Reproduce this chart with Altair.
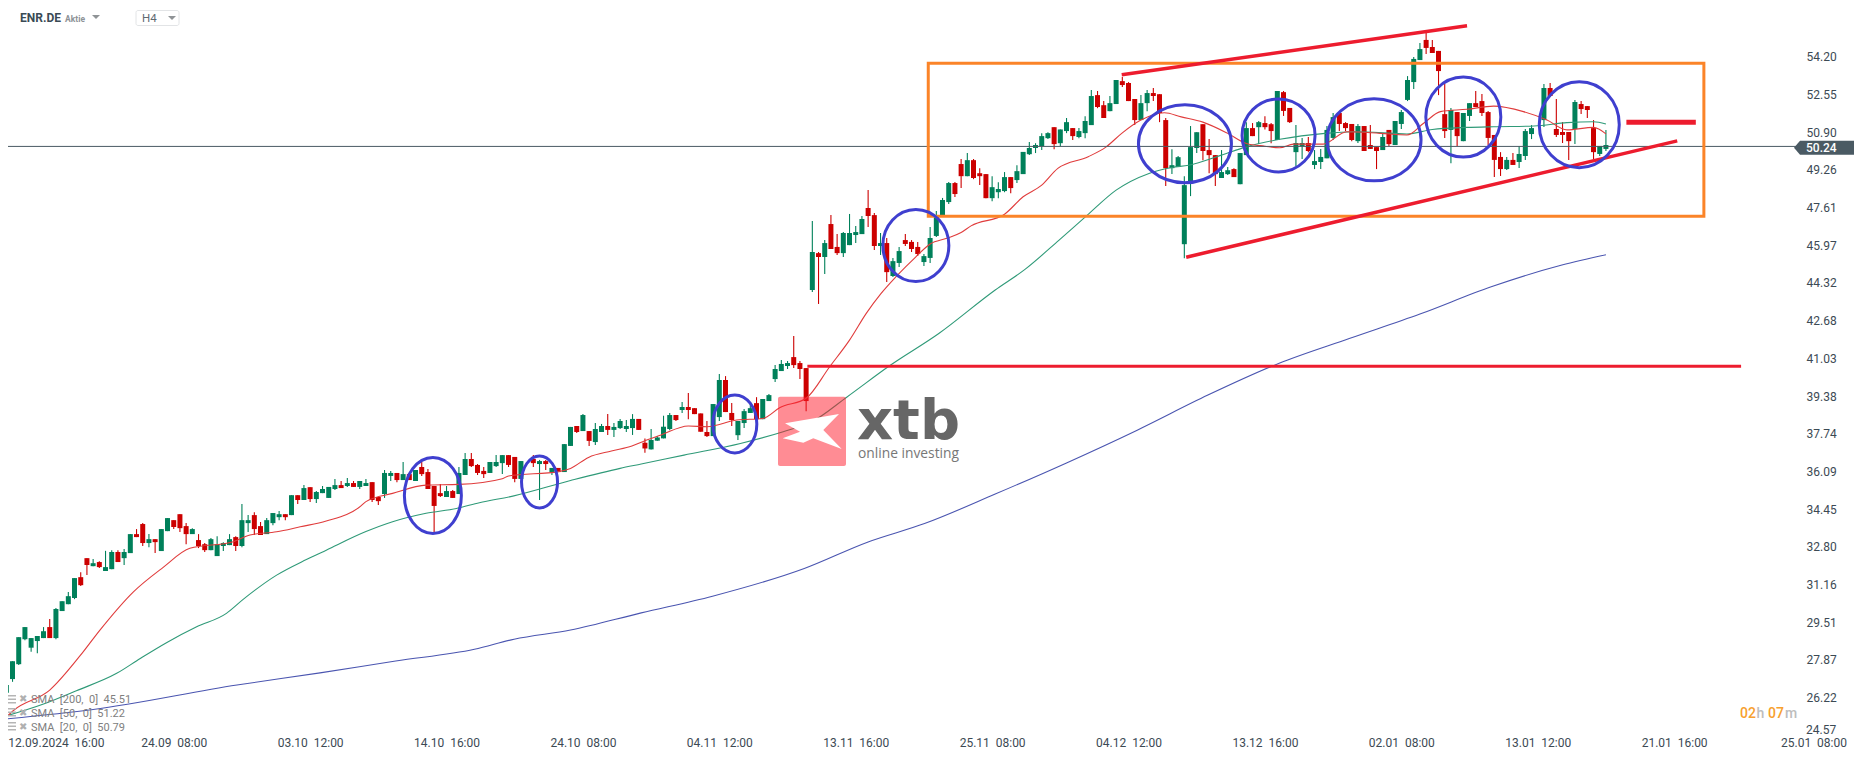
import altair as alt
import pandas as pd

N = None
opens = [
26.38,26.98,27.63,28.72,28.35,28.64,28.77,29.25,28.77,29.95,
30.25,30.52,31.43,32.26,31.91,32.09,31.70,31.78,32.53,32.26,
32.48,33.31,33.75,32.92,33.09,32.57,33.44,33.92,34.18,33.66,
33.31,33.05,32.87,32.61,32.35,32.79,32.83,33.18,32.79,33.79,
34.14,33.66,33.31,33.79,34.05,34.18,34.14,35.01,34.80,35.36,
34.84,35.10,34.89,35.28,35.45,35.41,35.54,35.37,35.41,35.58,
34.93,35.06,35.85,35.98,35.67,35.93,35.63,36.24,36.02,35.41,
35.10,34.93,35.19,35.06,35.89,36.59,36.33,36.07,35.98,36.28,
36.41,36.76,36.68,35.72,N,36.59,36.37,36.50,36.02,36.20,
36.02,37.16,38.03,37.81,37.81,37.33,37.77,38.03,37.86,37.94,
37.90,37.94,38.34,37.30,37.01,37.39,37.49,37.90,38.51,38.73,
38.86,38.81,38.58,37.77,37.59,38.42,40.04,38.60,37.63,38.16,
38.60,39.03,38.33,39.12,40.08,40.43,40.65,41.04,40.78,40.56,
43.97,45.58,45.41,46.85,45.85,45.58,45.93,46.37,46.41,47.55,
47.24,45.89,46.02,44.58,45.15,46.15,46.07,45.85,45.19,45.37,
46.33,47.24,47.81,48.64,49.47,48.94,49.64,49.07,49.03,47.98,
48.24,48.29,48.90,48.77,49.03,49.90,50.17,50.25,50.60,51.08,
50.38,50.91,51.04,50.65,50.82,51.17,52.48,52.04,51.78,52.09,
53.09,53.01,52.31,51.39,52.13,52.57,52.52,51.39,49.29,49.34,
45.97,48.68,50.17,51.21,50.08,49.86,48.86,49.03,49.25,48.59,
49.86,51.04,51.08,51.26,51.21,50.52,52.61,51.92,49.99,50.26,
50.39,49.43,49.56,49.72,50.61,51.70,51.26,51.22,50.47,51.13,
50.30,50.21,50.08,50.96,50.30,51.22,52.27,53.05,54.01,54.89,
54.58,54.41,51.65,50.96,51.74,50.47,51.57,52.13,52.22,51.74,
50.74,49.78,49.25,49.65,49.56,49.82,50.78,N,51.39,52.79,
51.00,50.87,50.87,51.00,52.09,52.00,51.04,49.91,50.13]
highs = [
26.72,27.76,28.81,29.25,28.77,28.86,29.25,29.60,30.08,30.38,
30.78,31.39,31.65,32.26,32.22,32.13,32.58,32.61,32.61,32.66,
33.31,33.53,33.79,33.31,33.09,33.53,34.01,33.92,34.18,33.79,
33.57,33.31,32.92,33.14,33.22,32.96,33.31,33.22,34.62,34.14,
34.27,33.84,34.01,34.23,34.32,34.18,35.01,35.01,35.45,35.36,
35.19,35.41,35.37,35.72,35.63,35.76,35.63,35.63,35.72,35.58,
34.93,36.11,36.07,35.98,36.46,35.93,36.11,36.46,36.15,35.41,
35.50,35.41,35.24,36.24,36.85,36.85,36.37,36.24,36.46,36.76,
36.76,36.76,36.68,36.50,N,36.76,36.55,36.55,36.20,36.20,
37.24,37.99,38.03,38.55,37.81,38.16,38.12,38.55,38.16,38.34,
38.29,38.55,38.34,37.49,37.90,37.58,38.48,38.60,38.51,39.08,
39.47,38.81,38.58,38.25,38.99,40.30,40.21,39.03,38.25,38.77,
39.03,39.29,39.21,39.43,40.69,40.91,40.87,41.96,40.87,40.56,
46.98,45.63,46.15,47.24,46.41,46.50,47.29,46.76,47.20,48.34,
47.33,46.46,46.24,45.37,45.85,46.41,46.15,46.07,45.54,46.72,
47.42,47.99,48.69,48.69,49.69,49.95,49.69,49.29,49.03,48.94,
48.68,49.12,48.90,49.42,50.00,50.43,50.38,50.82,50.86,51.08,
50.98,51.48,51.04,51.04,51.56,52.70,52.66,52.22,52.44,53.14,
53.27,53.05,52.31,52.48,52.70,52.79,52.52,51.48,50.12,49.82,
48.94,51.13,50.86,51.21,50.56,49.86,50.08,49.34,49.29,49.95,
51.30,51.26,51.35,51.56,51.26,52.66,52.66,51.92,51.17,50.61,
50.65,50.08,50.13,51.13,51.70,51.70,51.30,51.22,51.22,51.13,
51.17,50.21,50.82,50.96,51.35,51.83,53.31,54.14,54.76,55.24,
54.89,54.41,52.96,51.92,51.74,51.70,52.13,52.66,52.53,51.79,
50.74,49.99,49.78,49.95,50.26,51.00,51.17,N,52.96,53.01,
52.31,51.30,50.87,52.27,52.22,52.00,51.39,50.26,50.96]
lows = [
26.21,26.86,27.59,28.68,28.17,28.11,28.77,28.77,28.72,29.95,
30.25,30.47,31.04,31.52,31.91,31.83,31.70,31.78,32.09,31.96,
32.48,33.18,32.79,32.74,32.48,32.57,33.44,33.53,33.40,32.87,
33.31,32.70,32.53,32.61,32.35,32.57,32.83,32.57,32.74,33.40,
33.27,33.27,33.31,33.70,33.92,33.92,34.14,34.62,34.80,34.71,
34.67,35.10,34.89,35.24,35.32,35.37,35.37,35.28,35.41,34.71,
34.58,34.89,35.63,35.58,35.67,35.67,35.63,35.85,35.28,33.40,
34.93,34.93,34.89,35.06,35.89,36.24,35.89,35.76,35.98,36.24,
35.93,36.24,35.58,35.72,N,36.24,34.80,36.11,35.89,36.02,
36.02,37.16,37.72,37.81,37.16,37.20,37.77,37.64,37.55,37.90,
37.77,37.64,37.86,36.86,37.00,37.39,37.49,37.85,38.25,38.60,
38.33,38.55,37.78,37.55,37.59,38.25,38.64,38.03,37.42,37.94,
38.60,38.33,38.33,39.12,39.95,40.43,40.52,40.56,40.08,38.68,
43.88,43.36,44.67,45.76,45.50,45.41,45.93,46.02,46.41,46.72,
45.72,45.50,44.32,44.54,44.97,45.89,45.63,45.45,45.02,45.15,
46.28,47.24,47.72,48.03,48.42,48.94,48.81,48.55,47.98,47.85,
47.98,48.24,48.20,48.64,49.03,49.86,49.95,50.08,50.56,50.12,
50.25,50.82,50.52,50.60,50.60,51.17,51.91,51.48,51.78,52.09,
52.83,52.22,51.17,51.39,51.78,52.22,51.30,48.51,49.03,49.34,
45.36,48.07,49.95,49.64,49.07,48.51,48.86,48.99,48.90,48.59,
49.86,50.69,50.34,50.98,50.38,50.52,51.57,51.26,49.38,49.69,
49.99,49.25,49.25,49.72,50.52,50.91,50.91,50.47,50.39,50.04,
50.13,49.25,50.08,50.26,50.30,51.00,52.22,52.75,54.01,54.27,
54.32,52.48,50.61,49.51,50.26,50.47,51.35,51.96,51.57,50.30,
48.90,48.95,49.21,49.43,49.30,49.65,50.56,N,51.09,52.40,
50.65,50.39,49.65,50.34,51.65,51.48,49.69,49.82,50.04]
closes = [
26.72,27.76,28.81,29.25,28.77,28.86,29.07,28.77,30.04,30.38,
30.60,31.39,31.08,31.96,32.04,31.87,31.87,32.53,32.09,32.53,
33.31,33.18,32.92,33.09,32.96,33.53,34.01,33.62,33.57,33.31,
33.53,32.79,32.61,33.09,32.87,32.92,33.09,32.79,33.92,33.92,
33.53,33.27,33.92,34.23,34.18,34.05,35.01,34.80,35.32,34.84,
35.15,35.28,35.37,35.45,35.32,35.54,35.37,35.63,35.54,34.80,
34.75,35.98,35.98,35.67,35.93,35.67,36.11,35.93,35.28,34.54,
34.97,35.19,34.89,35.98,36.59,36.28,35.98,35.93,36.46,36.46,
36.76,36.33,35.72,36.50,N,36.41,36.50,36.37,36.20,36.02,
37.24,37.99,37.77,38.51,37.38,37.90,38.03,37.86,37.99,38.25,
38.03,38.34,37.86,37.05,37.42,37.53,38.00,38.51,38.29,38.86,
38.73,38.55,37.78,37.59,38.99,40.04,38.64,38.29,38.25,38.68,
38.81,38.33,39.21,39.38,40.52,40.74,40.78,40.69,40.52,39.12,
45.63,45.41,46.02,45.76,45.58,46.46,46.46,46.50,47.07,47.20,
45.89,46.02,44.75,45.23,45.67,45.98,45.76,45.54,45.45,46.24,
47.16,47.90,48.64,48.16,48.94,49.64,48.86,48.94,47.98,48.46,
48.38,48.90,48.42,49.16,50.00,50.17,50.30,50.69,50.82,50.34,
50.98,51.30,50.69,50.91,51.35,52.44,51.96,51.48,52.13,53.14,
52.92,52.22,51.39,52.13,52.57,52.44,51.70,49.29,49.42,49.77,
48.55,50.21,50.86,50.04,49.86,49.03,49.12,49.20,48.90,49.95,
51.04,50.69,51.30,51.08,50.91,52.66,51.79,51.30,50.39,50.39,
50.04,49.60,49.78,50.96,51.52,51.22,51.04,50.52,51.13,50.04,
50.13,50.04,50.65,50.34,51.35,51.74,53.14,54.06,54.49,54.54,
54.32,53.53,50.91,51.83,50.69,51.70,52.13,51.96,51.70,50.61,
49.65,49.25,49.65,49.43,49.91,50.91,51.04,N,52.79,52.44,
50.74,50.74,50.47,52.18,51.87,51.83,49.99,50.26,50.30]

# moving averages, read at a sparse set of bars: (bar, price)
sma20 = [(0,25.32),(1.2,25.62),(7,26.5),(11.9,28.0),(15.1,29.12),(20.5,30.79),(25.3,31.86),(29.6,32.69),
 (36.6,32.98),(39.3,33.27),(43.6,33.41),(47.4,33.63),(51.6,33.88),(57.2,34.54),(58,34.73),(62.3,35.09),
 (67.7,35.45),(73,35.48),(80,35.73),(81,35.85),(89.1,36.04),(91,36.18),(93.9,36.66),(97.6,36.94),
 (100.9,37.16),(103,37.39),(105.5,37.63),(110,38.03),(113,38.0),(117.8,38.29),(122,38.36),(124.8,38.84),
 (129,39.24),(132.8,40.62),(136,41.78),(138.7,42.95),(141,43.79),(143.5,44.55),(146.7,45.42),(149,45.98),
 (151.7,46.23),(154,46.48),(155.6,46.77),(161,47.28),(164,48.04),(167,48.55),(169.6,49.28),(174.5,49.79),
 (177.4,50.22),(179.9,50.81),(183,51.39),(186.8,51.71),(189.5,51.53),(193,51.30),(197,50.81),(200,50.37),
 (203,50.25),(205.4,50.18),(207.6,50.34),(212.4,50.34),(216.2,50.88),(221.6,50.81),(225.9,50.74),
 (228.6,51.25),(231.3,51.76),(235.6,51.86),(239.9,52.0),(244.7,51.76),(248.5,51.39),(251.7,50.96),
 (256,51.07),(258,50.79)]
sma50 = [(0,25.37),(6,25.89),(11.3,26.47),(17.8,27.23),(21.6,27.88),(25.9,28.58),(30.7,29.26),(35.5,29.85),
 (38.2,30.46),(43.6,31.52),(48.4,32.2),(51.6,32.61),(58,33.42),(62.3,33.85),(67.7,34.22),(72.6,34.43),
 (76.3,34.68),(81.7,34.97),(91,35.65),(99,36.18),(102.4,36.37),(109.3,36.76),(118.4,37.27),(125.3,37.78),
 (129.8,38.2),(135.6,39.3),(142.4,40.65),(150.4,42.07),(159.5,43.97),(164.3,44.87),(169.8,46.15),(174.4,47.25),
 (179,48.33),(184.3,49.06),(188,49.32),(190.7,49.42),(196,49.86),(200,50.22),(205.4,50.55),(212.7,50.81),
 (217.2,50.88),(223.7,50.81),(225.9,50.78),(230,50.98),(235.6,51.07),(239.9,51.10),(246.4,51.13),(251.7,51.28),
 (256,51.32),(258,51.22)]
sma200 = [(0,25.24),(14,25.65),(37.2,26.72),(50.6,27.25),(62.8,27.77),(75.5,28.28),(81.9,28.72),(91,29.12),
 (102.4,29.87),(113.9,30.6),(128.7,31.81),(139,32.97),(148.1,33.77),(159.5,35.06),(171,36.42),(182.4,37.85),
 (193.8,39.38),(205.2,40.76),(216.6,41.85),(228,42.92),(239.5,44.11),(250.9,45.06),(258,45.51)]

price_ticks = [54.20,52.55,50.90,49.26,47.61,45.97,44.32,42.68,41.03,39.38,37.74,36.09,34.45,32.80,31.16,29.51,27.87,26.22]
time_ticks = [8,27,49,71,93,115,137,159,181,203,225,247,269]
time_labels = ["12.09.2024\u00a0\u00a016:00","24.09\u00a0\u00a008:00","03.10\u00a0\u00a012:00","14.10\u00a0\u00a016:00",
 "24.10\u00a0\u00a008:00","04.11\u00a0\u00a012:00","13.11\u00a0\u00a016:00","25.11\u00a0\u00a008:00","04.12\u00a0\u00a012:00",
 "13.12\u00a0\u00a016:00","02.01\u00a0\u00a008:00","13.01\u00a0\u00a012:00","21.01\u00a0\u00a016:00"]

# annotations in chart units: (bar, price, half-width px, half-height px)
ellipses = [(68.8,35.00,28.5,38),(86,35.59,18,26),(117.5,38.12,22,29),(146.7,45.91,33,36),(190.1,50.36,46.5,39),
 (205.2,50.72,36.5,36.5),(220.6,50.53,47,41),(235,51.52,37.5,40),(253.7,51.19,40,43)]
trend_lines = [(179.9,53.37,235.6,55.51,3.5),(190.3,45.40,269.5,50.48,3.5),(129.2,40.64,279.8,40.64,3),(261.3,51.29,272.5,51.29,5)]
box = dict(x=148.7, x2=273.8, y=53.87, y2=47.19)
last_price = 50.24

GREEN, RED = "#00805a", "#cc0000"
INK = "#3c4a54"
FONT = "Roboto"

rows = [dict(i=i, o=o, h=h, l=l, c=c, d="up" if c >= o else "down")
        for i, (o, h, l, c) in enumerate(zip(opens, highs, lows, closes)) if o is not None]
candles = pd.DataFrame(rows)

xs = alt.Scale(domain=[0.27, 288.98], nice=False, zero=False, padding=0)
ys = alt.Scale(domain=[24.625, 56.284], nice=False, zero=False, padding=0)
dirc = alt.Color("d:N", scale=alt.Scale(domain=["up", "down"], range=[GREEN, RED]), legend=None)

xlab = "{" + ",".join(f"'{t}':'{l}'" for t, l in zip(time_ticks, time_labels)) + "}[datum.value]"
x_axis = alt.Axis(values=time_ticks, labelExpr=xlab, title=None, domain=False, ticks=False, grid=False,
                  labelFont=FONT, labelFontSize=12, labelColor=INK, labelPadding=4, labelOverlap=False,
                  labelFlush=False, labelBound=False)
y_axis = alt.Axis(values=price_ticks, format=".2f", orient="right", title=None, domain=False, ticks=False, grid=False,
                  labelFont=FONT, labelFontSize=12, labelColor=INK, labelPadding=8, labelOverlap=False,
                  labelOffset=1, labelFlush=False, labelBound=False)

def X(f):
    return alt.X(f, scale=xs, axis=x_axis)

def Y(f):
    return alt.Y(f, scale=ys, axis=y_axis)

wicks = alt.Chart(candles).mark_rule(strokeWidth=1.1, opacity=1).encode(
    x=X("i:Q"), y=Y("l:Q"), y2="h:Q", color=dirc)
bodies = alt.Chart(candles).mark_bar(size=5, orient="vertical", opacity=1).encode(
    x=X("i:Q"), y=Y("o:Q"), y2="c:Q", color=dirc)

def sma(points, color):
    df = pd.DataFrame(points, columns=["i", "p"])
    return alt.Chart(df).mark_line(color=color, strokeWidth=1.1, interpolate="monotone").encode(
        x=X("i:Q"), y=Y("p:Q"))

lines = [sma(sma200, "#4a55b0"), sma(sma50, "#2f9a78"), sma(sma20, "#e03c3c")]

price_rule = alt.Chart(pd.DataFrame({"p": [last_price]})).mark_rule(color="#4a5a63", strokeWidth=1).encode(
    y=Y("p:Q"), x=alt.value(-8), x2=alt.value(1790))

box_mark = alt.Chart(pd.DataFrame([box])).mark_rect(fillOpacity=0, stroke="#fb8428", strokeWidth=3).encode(
    x=X("x:Q"), x2="x2:Q", y=Y("y:Q"), y2="y2:Q")

tl = pd.DataFrame(trend_lines, columns=["x", "y", "x2", "y2", "w"])
trend = alt.Chart(tl).mark_rule(color="#ed1c2e").encode(
    x=X("x:Q"), x2="x2:Q", y=Y("y:Q"), y2="y2:Q",
    strokeWidth=alt.StrokeWidth("w:Q", scale=None))

def ellipse_path(rx, ry):
    k = 0.5523
    return (f"M{-rx},0C{-rx},{-k*ry} {-k*rx},{-ry} 0,{-ry}C{k*rx},{-ry} {rx},{-k*ry} {rx},0"
            f"C{rx},{k*ry} {k*rx},{ry} 0,{ry}C{-k*rx},{ry} {-rx},{k*ry} {-rx},0Z")

el = pd.DataFrame([dict(x=a, y=b, s=ellipse_path(c, d)) for a, b, c, d in ellipses])
ell = alt.Chart(el).mark_point(filled=False, size=4, stroke="#3f3fcf", strokeWidth=3, opacity=1).encode(
    x=X("x:Q"), y=Y("y:Q"), shape=alt.Shape("s:N", scale=None))

one = pd.DataFrame({"a": [0]})

def txt(s, x, y, size=12, color=INK, weight="normal", align="left", font=FONT, opacity=1):
    return alt.Chart(one).mark_text(text=s, fontSize=size, color=color, fontWeight=weight, align=align,
                                    baseline="middle", font=font, opacity=opacity).encode(
        x=alt.value(x - 8), y=alt.value(y - 8))

def sym(path, x, y, fill=None, stroke=None, sw=1):
    kw = dict(size=4, opacity=1, shape=path)
    if fill:
        kw.update(filled=True, fill=fill, strokeWidth=0)
    else:
        kw.update(filled=False, stroke=stroke, strokeWidth=sw)
    return alt.Chart(one).mark_point(**kw).encode(x=alt.value(x - 8), y=alt.value(y - 8))

def box_px(x, x2, y, y2, **kw):
    return alt.Chart(one).mark_rect(**kw).encode(
        x=alt.value(x - 8), x2=alt.value(x2 - 8), y=alt.value(y - 8), y2=alt.value(y2 - 8))

TRI = "M-4,-2L4,-2L0,2Z"
BARS = "M-5,-5L5,-5L5,-3.6L-5,-3.6ZM-5,-1.6L5,-1.6L5,0L-5,0ZM-5,2L5,2L5,3.6L-5,3.6Z"
XPATH = "M-27,-7.7L27,-17L11.3,-1L29.7,18L1.3,7.3L-8.7,11.7L-29.3,7.3L-12,0.7Z"
TAG = "M-30,0L-24,-7L30,-7L30,7L-24,7Z"

decor = [
    txt("ENR.DE", 20, 18, 12, "#3a4a55", "bold"),
    txt("Aktie", 65, 19, 8.5, "#8d9296", "bold"),
    sym(TRI, 96, 17, fill="#8f9396"),
    box_px(136, 179, 10.5, 25.5, fill="#ffffff", stroke="#e2e4e6", strokeWidth=1, cornerRadius=2),
    txt("H4", 142, 19, 11.5, "#5f6a72"),
    sym(TRI, 172, 18, fill="#8f9396"),
    # logo
    box_px(778, 846, 396.7, 466, fill="#ff1a2a", fillOpacity=0.5, cornerRadius=2),
    sym(XPATH, 812, 431, fill="#ffffff"),
    txt("xtb", 857, 422, 56, "#666666", "bold", font="DejaVu Sans"),
    txt("online investing", 858, 454, 13.8, "#777777", "normal", font="Open Sans"),
    # legend of the averages
    sym(BARS, 11, 700, fill="#b5b5b5"),
    sym(BARS, 11, 713, fill="#b5b5b5"),
    sym(BARS, 11, 727, fill="#b5b5b5"),
    txt("\u2716", 19, 699, 10, "#b0b0b0", font="DejaVu Sans"),
    txt("\u2716", 19, 713, 10, "#b0b0b0", font="DejaVu Sans"),
    txt("\u2716", 19, 727, 10, "#b0b0b0", font="DejaVu Sans"),
    txt("SMA\u00a0\u00a0[200,\u00a0\u00a00]\u00a0\u00a045.51", 31, 700, 11, "#808080"),
    txt("SMA\u00a0\u00a0[50,\u00a0\u00a00]\u00a0\u00a051.22", 31, 714, 11, "#808080"),
    txt("SMA\u00a0\u00a0[20,\u00a0\u00a00]\u00a0\u00a050.79", 31, 728, 11, "#808080"),
    # price tag and countdown
    sym(TAG, 1824, 147.8, fill="#4a5a63"),
    txt("50.24", 1806, 148, 12, "#ffffff", 500),
    txt("24.57", 1806, 730, 12, INK),
    txt("25.01\u00a0\u00a008:00", 1814, 743, 12, INK, align="center"),
    txt("02", 1740, 714, 14, "#f7a02e", 500),
    txt("h", 1756.5, 714, 14, "#bdbdbd", 500),
    txt("07", 1768, 714, 14, "#f7a02e", 500),
    txt("m", 1785, 714, 14, "#bdbdbd", 500),
]

chart = alt.layer(wicks, bodies, *lines, price_rule, box_mark, *decor[6:10], trend, ell,
                  *decor[:6], *decor[10:]).properties(
    width=1790, height=725,
    autosize=alt.AutoSizeParams(type="none"),
    padding={"left": 0, "top": 0, "right": 60, "bottom": 18},
    background="#ffffff",
).configure_view(stroke=None)

chart.save("out.html", embed_options={"renderer": "svg", "actions": False})
